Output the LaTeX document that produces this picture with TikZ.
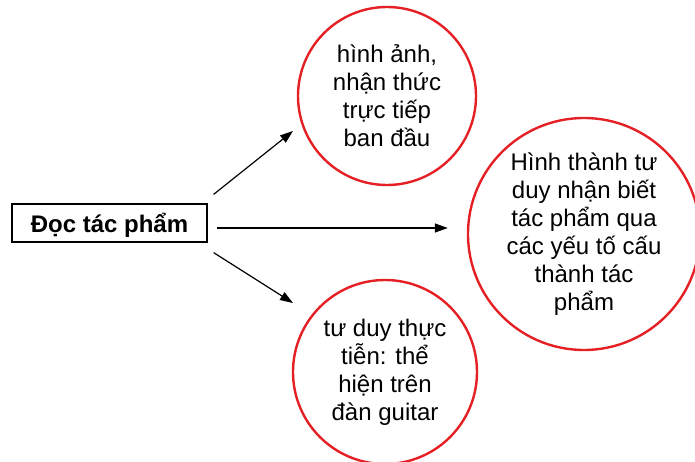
\documentclass[tikz,border=0pt]{standalone}
\usepackage{fontspec}
\setmainfont{Liberation Sans}
\usetikzlibrary{calc,arrows.meta}
\definecolor{cred}{RGB}{228,32,36}
\begin{document}
\begin{tikzpicture}[x=1pt,y=-1pt,
  circ/.style={circle, draw=cred, line width=2.4pt, inner sep=0pt, align=center,
    font=\fontsize{24}{28}\selectfont},
  mainbox/.style={draw, line width=1.2pt, minimum width=195pt, minimum height=38pt,
    inner sep=0pt, text height=22pt, text depth=2pt, font=\bfseries\fontsize{24}{26}\selectfont},
  arr/.style={line width=1.2pt, -{Triangle[length=13pt,width=9pt]}}]
\useasboundingbox (0,0) rectangle (695,462);
\node[mainbox] (box) at (109.5,223) {Đọc tác phẩm};
\node[circ, minimum size=178pt] (top) at (387,96) {hình ảnh,\\nhận thức\\trực tiếp\\ban đầu};
\node[circ, minimum size=232pt] (right) at (584,234) {Hình thành tư\\duy nhận biết\\tác phẩm qua\\các yếu tố cấu\\thành tác\\phẩm};
\node[circ, minimum size=184pt] (bot) at (385,372) {tư duy thực\\tiễn: thể\\hiện trên\\đàn guitar};
\draw[arr] ($(box.north east)+(6,-9)$) -- ($(top.center)+(-94,35)$);
\draw[arr] ($(box.east)+(9,5)$) -- ($(right.west)+(-19,-6)$);
\draw[arr] ($(box.south east)+(6,10)$) -- ($(bot.center)+(-92,-69)$);
\end{tikzpicture}
\end{document}
